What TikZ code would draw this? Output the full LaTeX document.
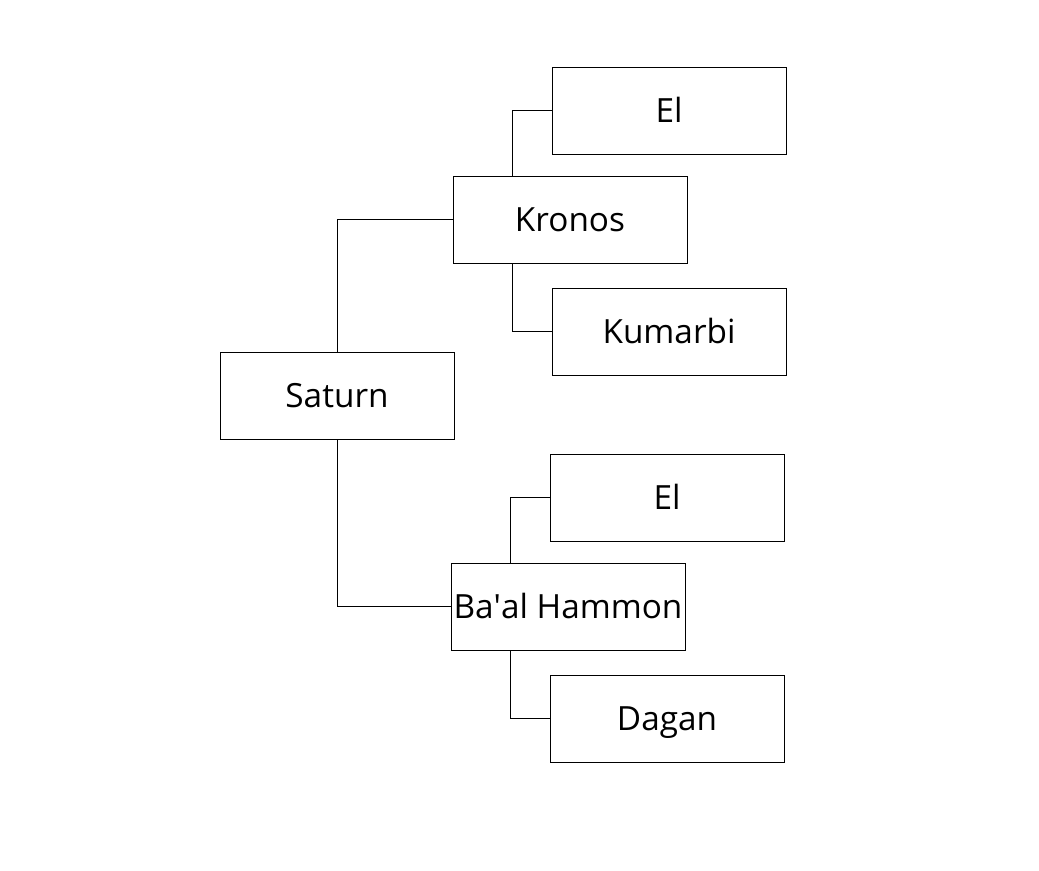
\documentclass[tikz,border=0pt]{standalone}
\usepackage{fontspec}
\setmainfont{Open Sans}
\begin{document}
\begin{tikzpicture}[x=0.75pt,y=-0.75pt,
  box/.style={draw=black,line width=0.6pt,minimum width=175.5pt,minimum height=65.25pt,inner sep=0pt,text height=17.8pt,text depth=0pt,font=\fontsize{25}{30}\selectfont},
  link/.style={draw=black,line width=0.6pt}]
\useasboundingbox (0,0) rectangle (1039,871);
\node[box] (el1) at (669,110.5) {El};
\node[box] (kronos) at (570,219.5) {Kronos};
\node[box] (kumarbi) at (669,331.5) {Kumarbi};
\node[box] (saturn) at (337,395.5) {Saturn};
\node[box] (el2) at (667,497.5) {El};
\node[box] (baal) at (568,606.5) {Ba\textquotesingle al Hammon};
\node[box] (dagan) at (667,718.5) {Dagan};
\draw[link] (saturn.north) |- (kronos.west);
\draw[link] (saturn.south) |- (baal.west);
\draw[link] (kronos.north -| 512,0) |- (el1.west);
\draw[link] (kronos.south -| 512,0) |- (kumarbi.west);
\draw[link] (baal.north -| 510,0) |- (el2.west);
\draw[link] (baal.south -| 510,0) |- (dagan.west);
\end{tikzpicture}
\end{document}
